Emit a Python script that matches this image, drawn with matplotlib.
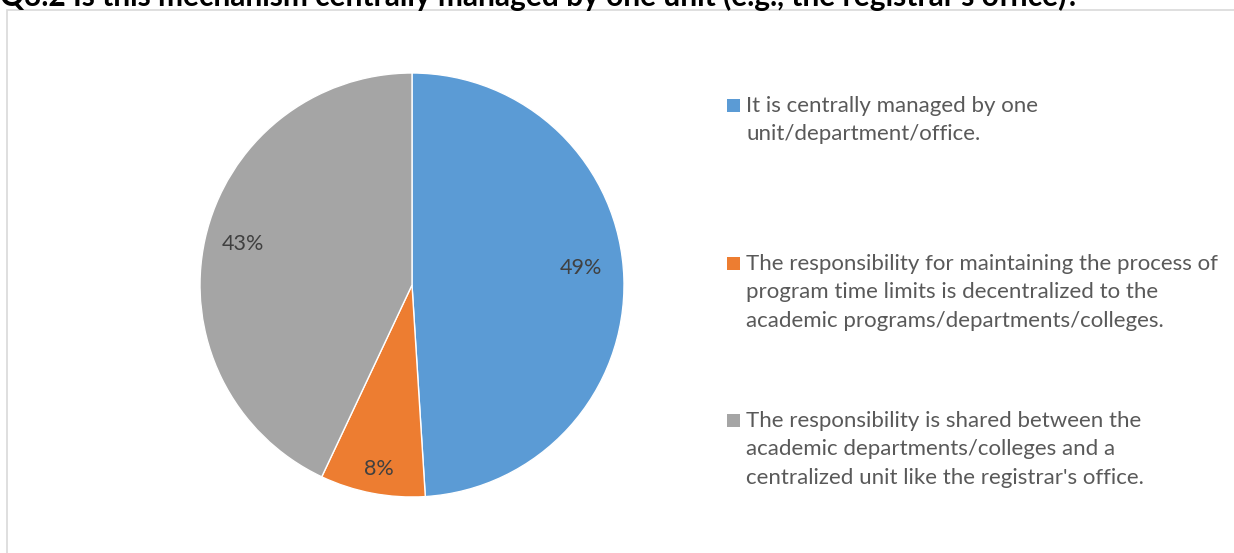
import matplotlib
matplotlib.use("Agg")
import numpy as np
import matplotlib.pyplot as plt
from matplotlib.patches import Rectangle

title = "Q3.2 Is this mechanism centrally managed by one unit (e.g., the registrar's office)?"
categories = [
    "It is centrally managed by one\nunit/department/office.",
    "The responsibility for maintaining the process of\nprogram time limits is decentralized to the\nacademic programs/departments/colleges.",
    "The responsibility is shared between the\nacademic departments/colleges and a\ncentralized unit like the registrar's office.",
]
values = [49, 8, 43]
colors = ["#5B9BD5", "#ED7D31", "#A5A5A5"]

W, H = 1234, 553
fig = plt.figure(figsize=(W / 100, H / 100), dpi=100)
plt.rcParams['font.family'] = ['Lato', 'DejaVu Sans']

# chart border
fig.patches.append(Rectangle((7 / W, -0.1), 1.2, (H - 10) / H + 0.1, transform=fig.transFigure,
                             fill=False, edgecolor="#D9D9D9", linewidth=1.2))

# title (partly cropped at top, as in the reference)
fig.text(0 / W, 1 - 6 / H, title, ha="left", va="baseline", fontsize=21.5,
         fontweight="bold", color="black")

ax = fig.add_axes([200 / W, 56 / H, 424 / W, 424 / H])
wedges, texts, autotexts = ax.pie(values, colors=colors, startangle=90, counterclock=False,
                                  radius=1, autopct=lambda p: f"{p:.0f}%", pctdistance=0.82,
                                  wedgeprops=dict(edgecolor="white", linewidth=1))
label_dist = [0.80, 0.88, 0.82]
label_dang = [4.0, 0.5, -1.0]
for t, w, d, da in zip(autotexts, wedges, label_dist, label_dang):
    ang = np.deg2rad((w.theta1 + w.theta2) / 2 + da)
    t.set_position((d * np.cos(ang), d * np.sin(ang)))
    t.set_color("#404040")
    t.set_fontsize(15.5)
ax.set_xlim(-1, 1)
ax.set_ylim(-1, 1)
ax.set_aspect("equal")
ax.axis("off")

# legend
ys = [105, 263, 420]
for lab, col, y in zip(categories, colors, ys):
    fig.patches.append(Rectangle((727 / W, 1 - (y + 7) / H), 13 / W, 13 / H,
                                 transform=fig.transFigure, facecolor=col, edgecolor="none"))
    fig.text(746 / W, 1 - (y - 9) / H, lab, ha="left", va="top", fontsize=16,
             color="#595959", linespacing=1.53)

fig.savefig("out.png", dpi=100)
